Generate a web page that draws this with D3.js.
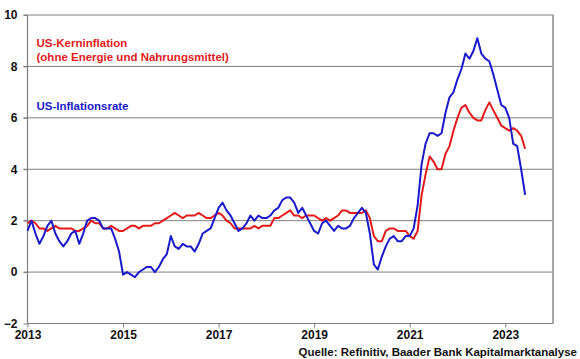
<!DOCTYPE html>
<html><head><meta charset="utf-8">
<script src="https://cdn.jsdelivr.net/npm/d3@7"></script>
<style>body{margin:0;background:#fff}svg{display:block}text{font-family:"Liberation Sans",Arial,sans-serif;font-weight:bold}</style>
</head><body><svg id="c" width="580" height="359"></svg>
<script>
const startYear = 2013;
const headline = [
1.6,2.0,1.5,1.1,1.4,1.8,2.0,1.5,1.2,1.0,1.2,1.5,
1.6,1.1,1.5,2.0,2.1,2.1,2.0,1.7,1.7,1.7,1.3,0.8,
-0.1,0.0,-0.1,-0.2,0.0,0.1,0.2,0.2,0.0,0.2,0.5,0.7,
1.4,1.0,0.9,1.1,1.0,1.0,0.8,1.1,1.5,1.6,1.7,2.1,
2.5,2.7,2.4,2.2,1.9,1.6,1.7,1.9,2.2,2.0,2.2,2.1,
2.1,2.2,2.4,2.5,2.8,2.9,2.9,2.7,2.3,2.5,2.2,1.9,
1.6,1.5,1.9,2.0,1.8,1.6,1.8,1.7,1.7,1.8,2.1,2.3,
2.5,2.3,1.5,0.3,0.1,0.6,1.0,1.3,1.4,1.2,1.2,1.4,
1.4,1.7,2.6,4.2,5.0,5.4,5.4,5.3,5.4,6.2,6.8,7.0,
7.5,7.9,8.5,8.3,8.6,9.1,8.5,8.3,8.2,7.7,7.1,6.5,
6.4,6.0,5.0,4.9,4.0,3.0];
const core = [
1.9,2.0,1.9,1.7,1.7,1.6,1.7,1.8,1.7,1.7,1.7,1.7,
1.6,1.6,1.7,1.8,2.0,1.9,1.9,1.7,1.7,1.8,1.7,1.6,
1.6,1.7,1.8,1.8,1.7,1.8,1.8,1.8,1.9,1.9,2.0,2.1,
2.2,2.3,2.2,2.1,2.2,2.2,2.2,2.3,2.2,2.1,2.1,2.2,
2.3,2.2,2.0,1.9,1.7,1.7,1.7,1.7,1.7,1.8,1.7,1.8,
1.8,1.8,2.1,2.1,2.2,2.3,2.4,2.2,2.2,2.1,2.2,2.2,
2.2,2.1,2.0,2.1,2.0,2.1,2.2,2.4,2.4,2.3,2.3,2.3,
2.3,2.4,2.1,1.4,1.2,1.2,1.6,1.7,1.7,1.6,1.6,1.6,
1.4,1.3,1.6,3.0,3.8,4.5,4.3,4.0,4.0,4.6,4.9,5.5,
6.0,6.4,6.5,6.2,6.0,5.9,5.9,6.3,6.6,6.3,6.0,5.7,
5.6,5.5,5.6,5.5,5.3,4.8];
const xTicks = [2013,2015,2017,2019,2021,2023];
const yTicks = [-2,0,2,4,6,8,10];
const labelCore1 = "US-Kerninflation";
const labelCore2 = "(ohne Energie und Nahrungsmittel)";
const labelHead = "US-Inflationsrate";
const source = "Quelle: Refinitiv, Baader Bank Kapitalmarktanalyse";

const svg = d3.select("#c");
const L = 27.5, R = 553, T = 15, B = 323.5;
const x = d3.scaleLinear().domain([2013, 2024]).range([L, R]);
const y = d3.scaleLinear().domain([-2, 10]).range([B, T]);
const grid = "#7f7f7f";

// gridlines
svg.append("g").selectAll("line").data(yTicks.filter(v => v > -2)).join("line")
  .attr("x1", L - 4).attr("x2", R).attr("y1", d => y(d)).attr("y2", d => y(d))
  .attr("stroke", grid).attr("stroke-width", 1);
// right border
svg.append("line").attr("x1", R).attr("x2", R).attr("y1", T - 0.5).attr("y2", B)
  .attr("stroke", "#a6a6a6").attr("stroke-width", 2);

// axes
const yAxis = svg.append("g").attr("transform", `translate(${L},0)`)
  .call(d3.axisLeft(y).tickValues(yTicks).tickSize(4).tickPadding(6).tickFormat(d3.format("d")));
const xAxis = svg.append("g").attr("transform", `translate(0,${B})`)
  .call(d3.axisBottom(x).tickValues(xTicks).tickSize(4).tickPadding(3).tickFormat(d3.format("d")));
[yAxis, xAxis].forEach(a => {
  a.select(".domain").attr("stroke", grid).attr("stroke-width", 1.2);
  a.selectAll(".tick line").attr("stroke", grid);
  a.selectAll("text").attr("fill", "#111").style("font-size", "12px")
   .style("font-family", '"Liberation Sans",Arial,sans-serif').style("font-weight", "bold");
});
xAxis.select(".domain").attr("d", `M${L},0H${R}`);
yAxis.select(".domain").attr("d", `M0,${T}V${B}`);

const line = d3.line().x((d, i) => x(startYear + i / 12)).y(d => y(d));
svg.append("path").datum(core).attr("d", line).attr("fill", "none")
  .attr("stroke", "#e41a1a").attr("stroke-width", 2).attr("stroke-linejoin", "round");
svg.append("path").datum(headline).attr("d", line).attr("fill", "none")
  .attr("stroke", "#1a1acc").attr("stroke-width", 2).attr("stroke-linejoin", "round");

svg.append("text").attr("x", 36.5).attr("y", 47).attr("fill", "#e41a1a").style("font-size", "11.5px").text(labelCore1);
svg.append("text").attr("x", 36.5).attr("y", 61).attr("fill", "#e41a1a").style("font-size", "11.5px").text(labelCore2);
svg.append("text").attr("x", 36.5).attr("y", 110).attr("fill", "#1a1acc").style("font-size", "11.5px").text(labelHead);
svg.append("text").attr("x", 577).attr("y", 356).attr("text-anchor", "end").attr("fill", "#111").style("font-size", "11.5px").text(source);
</script></body></html>
